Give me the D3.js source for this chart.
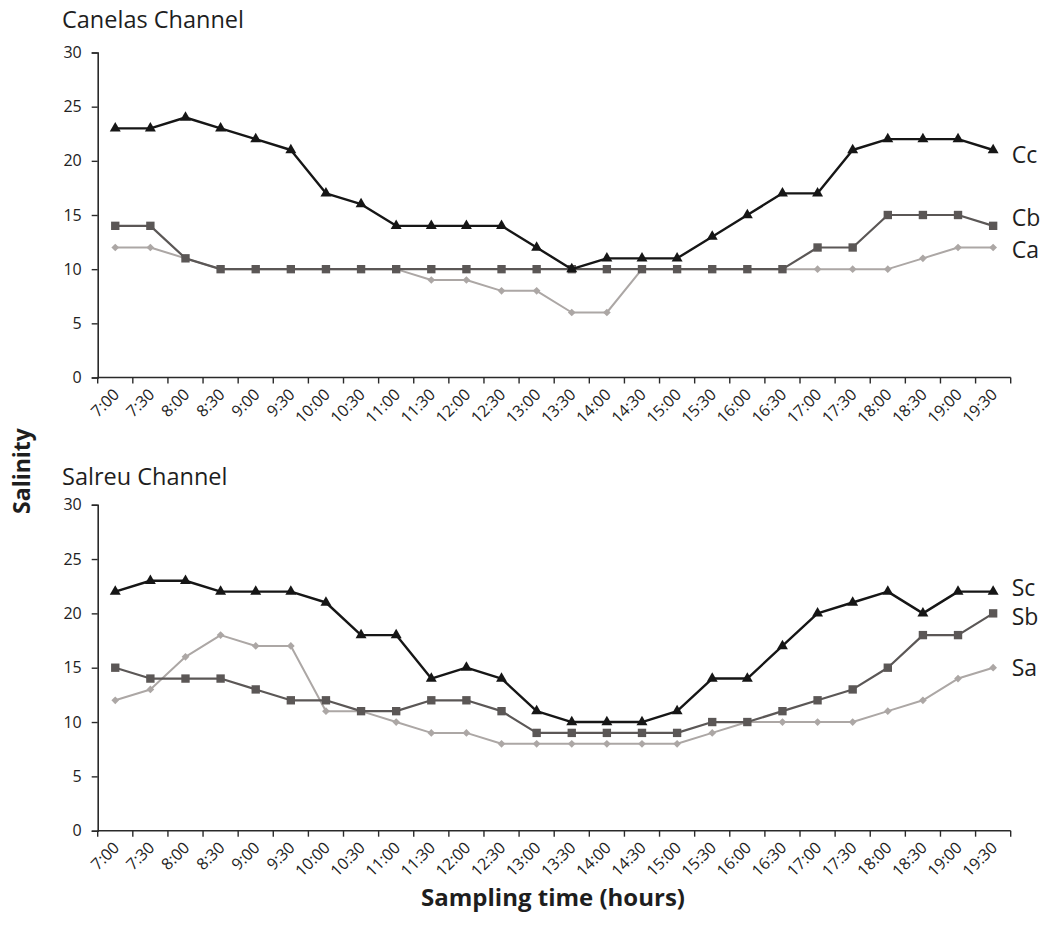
<!DOCTYPE html>
<html>
<head>
<meta charset="utf-8">
<script src="https://cdn.jsdelivr.net/npm/d3@7"></script>
<style>
  html, body { margin: 0; padding: 0; background: #ffffff; }
  svg { display: block; font-family: "Open Sans", "Noto Sans", sans-serif; }
</style>
</head>
<body>
<svg id="chart" width="1048" height="940"></svg>
<script>
// Sampling times (every 30 minutes)
const times = ["7:00","7:30","8:00","8:30","9:00","9:30","10:00","10:30","11:00","11:30","12:00","12:30","13:00",
               "13:30","14:00","14:30","15:00","15:30","16:00","16:30","17:00","17:30","18:00","18:30","19:00","19:30"];

const yTicks = [0, 5, 10, 15, 20, 25, 30];

// Canelas Channel salinity
const canelasC = [23,23,24,23,22,21,17,16,14,14,14,14,12,10,11,11,11,13,15,17,17,21,22,22,22,21];
const canelasB = [14,14,11,10,10,10,10,10,10,10,10,10,10,10,10,10,10,10,10,10,12,12,15,15,15,14];
const canelasA = [12,12,11,10,10,10,10,10,10,9,9,8,8,6,6,10,10,10,10,10,10,10,10,11,12,12];

// Salreu Channel salinity
const salreuC = [22,23,23,22,22,22,21,18,18,14,15,14,11,10,10,10,11,14,14,17,20,21,22,20,22,22];
const salreuB = [15,14,14,14,13,12,12,11,11,12,12,11,9,9,9,9,9,10,10,11,12,13,15,18,18,20];
const salreuA = [12,13,16,18,17,17,11,11,10,9,9,8,8,8,8,8,8,9,10,10,10,10,11,12,14,15];

// Line / marker styles for the three stations (diamond = square turned 45°)
const styles = {
  c: { color: "#161616", width: 2.4, symbol: d3.symbolTriangle, size: 52, rotate: 0 },
  b: { color: "#5b5756", width: 2.2, symbol: d3.symbolSquare,   size: 70, rotate: 0 },
  a: { color: "#aca7a5", width: 2.0, symbol: d3.symbolSquare,   size: 30, rotate: 45 }
};

const panels = [
  { title: "Canelas Channel", top: 52.5, bottom: 377.5, titleY: 28,
    series: [
      { name: "Ca", key: "a", values: canelasA, dy: 2 },
      { name: "Cb", key: "b", values: canelasB, dy: -8 },
      { name: "Cc", key: "c", values: canelasC, dy: 5 }
    ] },
  { title: "Salreu Channel", top: 504.7, bottom: 830.7, titleY: 485,
    series: [
      { name: "Sa", key: "a", values: salreuA, dy: 0 },
      { name: "Sb", key: "b", values: salreuB, dy: 4 },
      { name: "Sc", key: "c", values: salreuC, dy: -4 }
    ] }
];

const svg = d3.select("#chart");
const left = 97.7, right = 1010.7;
const axisColor = "#2a2a2a";

const x = d3.scaleBand().domain(times).range([left, right]).padding(0);

panels.forEach(p => {
  const y = d3.scaleLinear().domain([0, 30]).range([p.bottom, p.top]);
  const g = svg.append("g");

  // Panel title
  g.append("text")
    .attr("x", 62).attr("y", p.titleY)
    .attr("font-size", 23.5).attr("fill", "#1e1e1e")
    .text(p.title);

  // Y axis
  const yAxis = g.append("g")
    .attr("transform", `translate(${left},0)`)
    .call(d3.axisLeft(y).tickValues(yTicks).tickSize(6).tickPadding(10));
  yAxis.attr("font-family", null).attr("font-size", null);
  yAxis.select(".domain").attr("stroke", axisColor).attr("stroke-width", 1.6);
  yAxis.selectAll(".tick line").attr("stroke", axisColor).attr("stroke-width", 1.4);
  yAxis.selectAll(".tick text").attr("font-size", 16).attr("fill", "#222");

  // X axis: ticks on band edges, labels centred on bands
  const xAxis = g.append("g")
    .attr("transform", `translate(0,${p.bottom})`);
  xAxis.append("line")
    .attr("x1", left).attr("x2", right)
    .attr("stroke", axisColor).attr("stroke-width", 1.6);
  const edges = times.map(t => x(t)).concat([right]);
  xAxis.selectAll("line.tk").data(edges).join("line")
    .attr("class", "tk")
    .attr("x1", d => d).attr("x2", d => d)
    .attr("y1", 0).attr("y2", 6)
    .attr("stroke", axisColor).attr("stroke-width", 1.4);
  xAxis.selectAll("text.tl").data(times).join("text")
    .attr("class", "tl")
    .attr("transform", d => `translate(${x(d) + x.bandwidth() / 2 + 5},${18}) rotate(-45)`)
    .attr("text-anchor", "end")
    .attr("font-size", 16).attr("fill", "#222")
    .text(d => d);

  // Series lines and markers
  p.series.forEach(s => {
    const st = styles[s.key];
    const line = d3.line()
      .x((d, i) => x(times[i]) + x.bandwidth() / 2)
      .y(d => y(d));
    g.append("path")
      .datum(s.values)
      .attr("fill", "none")
      .attr("stroke", st.color)
      .attr("stroke-width", st.width)
      .attr("stroke-linejoin", "round")
      .attr("d", line);
    g.selectAll(null).data(s.values).join("path")
      .attr("transform", (d, i) => `translate(${x(times[i]) + x.bandwidth() / 2},${y(d)}) rotate(${st.rotate})`)
      .attr("d", d3.symbol().type(st.symbol).size(st.size))
      .attr("fill", st.color);
    const last = s.values[s.values.length - 1];
    g.append("text")
      .attr("x", right + 1)
      .attr("y", y(last) + s.dy)
      .attr("dy", "0.35em")
      .attr("font-size", 23).attr("fill", "#1e1e1e")
      .text(s.name);
  });
});

// Shared axis titles
svg.append("text")
  .attr("transform", "translate(30,471) rotate(-90)")
  .attr("text-anchor", "middle")
  .attr("font-size", 23).attr("font-weight", "bold").attr("fill", "#1e1e1e")
  .text("Salinity");

svg.append("text")
  .attr("x", 553).attr("y", 906)
  .attr("text-anchor", "middle")
  .attr("font-size", 24).attr("font-weight", "bold").attr("fill", "#1e1e1e")
  .text("Sampling time (hours)");
</script>
</body>
</html>
